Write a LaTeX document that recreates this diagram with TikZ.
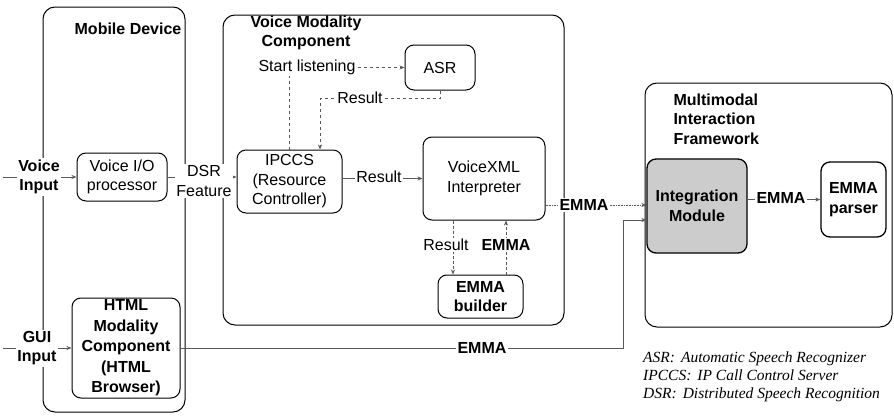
\documentclass[tikz,border=0pt]{standalone}
\usepackage{fontspec}
\setmainfont{Liberation Sans}
\newfontfamily\legendfont{Liberation Serif}
\usetikzlibrary{arrows.meta}

\newcommand\diagfont{\fontsize{16}{19.5}\selectfont}

\tikzset{
  box/.style={draw, line width=1pt, rounded corners=9pt, align=center, inner sep=1pt},
  frame/.style={draw, line width=1pt, rounded corners=12pt},
  conn/.style={-{Stealth[length=5pt,width=4pt]}, line width=0.6pt, black!65},
  lbl/.style={fill=white, inner sep=1.5pt, align=center},
  heading/.style={font=\diagfont\bfseries, align=center}
}

\begin{document}
\begin{tikzpicture}[x=1pt, y=-1pt, every node/.style={font=\diagfont}]
    \useasboundingbox (0,0) rectangle (894,415);

    % The three containers
    \draw[frame] (43,7) rectangle (185,412);    % Mobile device
    \draw[frame] (223,15) rectangle (564,325);  % Voice modality component
    \draw[frame] (645,83) rectangle (892,327);  % Framework

    \node[heading] (mobTitle) at (128,29) {Mobile Device};
    \node[heading] (vmcTitle) at (306,33) {Voice Modality\\Component};
    \node[heading, align=left, anchor=west] (mmiTitle) at (670,119) {Multimodal\\Interaction\\Framework};

    % Components
    \node[box, minimum width=90pt, minimum height=48pt] (VoiceIO) at (122,177) {Voice I/O\\processor};
    \node[box, font=\bfseries\fontsize{16}{20.5}\selectfont, minimum width=108pt, minimum height=100pt] (HTML) at (126,348)
        {HTML\\Modality\\Component\\(HTML\\Browser)};
    \node[box, minimum width=105pt, minimum height=63pt] (IPCCS) at (289.5,181.5) {IPCCS\\(Resource\\Controller)};
    \node[box, minimum width=70pt, minimum height=45pt] (ASR) at (440,67.5) {ASR};
    \node[box, minimum width=122pt, minimum height=83pt] (VXML) at (484,178.5) {VoiceXML\\Interpreter};
    \node[box, font=\diagfont\bfseries, minimum width=85pt, minimum height=43pt] (Builder) at (480.5,296.5) {EMMA\\builder};
    \node[box, font=\diagfont\bfseries, fill=black!20, line width=1.3pt, minimum width=100pt, minimum height=94pt] (Integ) at (697,206)
        {Integration\\Module};
    \node[box, font=\diagfont\bfseries, line width=1.3pt, minimum width=65pt, minimum height=75pt] (Parser) at (853.5,199.5) {EMMA\\parser};

    % Turning points of the connectors
    \coordinate (voiceIn) at (3,177);
    \coordinate (guiIn) at (3,348);
    \coordinate (resTurn) at (440,98);
    \coordinate (resX) at (453,0);
    \coordinate (emmaX) at (506,0);
    \coordinate (emmaY) at (0,205);
    \coordinate (gBend) at (623,220);

    % Connectors
    \draw[conn] (voiceIn) -- (VoiceIO.west);
    \draw[conn] (guiIn) -- (HTML.west);
    \draw[conn] (VoiceIO.east) -- (VoiceIO.east -| IPCCS.west);
    \draw[conn, dashed] (IPCCS.north) |- (ASR.west);
    \draw[conn, dashed] (ASR.south) -- (resTurn) -| (IPCCS.north -| 320,0);
    \draw[conn] (IPCCS.east |- VXML.west) -- (VXML.west);
    \draw[conn, densely dashed] (VXML.south -| resX) -- (Builder.north -| resX);
    \draw[conn, densely dashed] (Builder.north -| emmaX) -- (VXML.south -| emmaX);
    \draw[conn, densely dotted] (VXML.east |- emmaY) -- (Integ.west |- emmaY);
    \draw[conn] (HTML.east) -| (gBend) -- (Integ.west |- gBend);
    \draw[conn] (Integ.east |- Parser.west) -- (Parser.west);

    % Labels sitting on the lines
    \node[lbl, font=\diagfont\bfseries] (voiceLbl) at (39,177) {Voice\\Input};
    \node[lbl, font=\diagfont\bfseries] (guiLbl) at (37,348) {GUI\\Input};
    \node[lbl] (dsrLbl) at (204,181) {DSR\\Feature};
    \node[lbl] (startLbl) at (307,67) {Start listening};
    \node[lbl] (resLbl1) at (360,98) {Result};
    \node[lbl] (resLbl2) at (379,177) {Result};
    \node[lbl] (resLbl3) at (446,245) {Result};
    \node[lbl, font=\diagfont\bfseries] (emmaLbl1) at (506,245) {EMMA};
    \node[lbl, font=\diagfont\bfseries] (emmaLbl2) at (584,205) {EMMA};
    \node[lbl, font=\diagfont\bfseries] (emmaLbl3) at (482,348) {EMMA};
    \node[lbl, font=\diagfont\bfseries] (emmaLbl4) at (781,198) {EMMA};

    % Legend
    \node[anchor=north west, align=left, inner sep=0pt, font=\legendfont\itshape\fontsize{15.5}{18}\selectfont] (legend) at (643,352)
        {ASR:\hspace{6pt}Automatic Speech Recognizer\\
         IPCCS:\hspace{6pt}IP Call Control Server\\
         DSR:\hspace{6pt}Distributed Speech Recognition};
\end{tikzpicture}
\end{document}
